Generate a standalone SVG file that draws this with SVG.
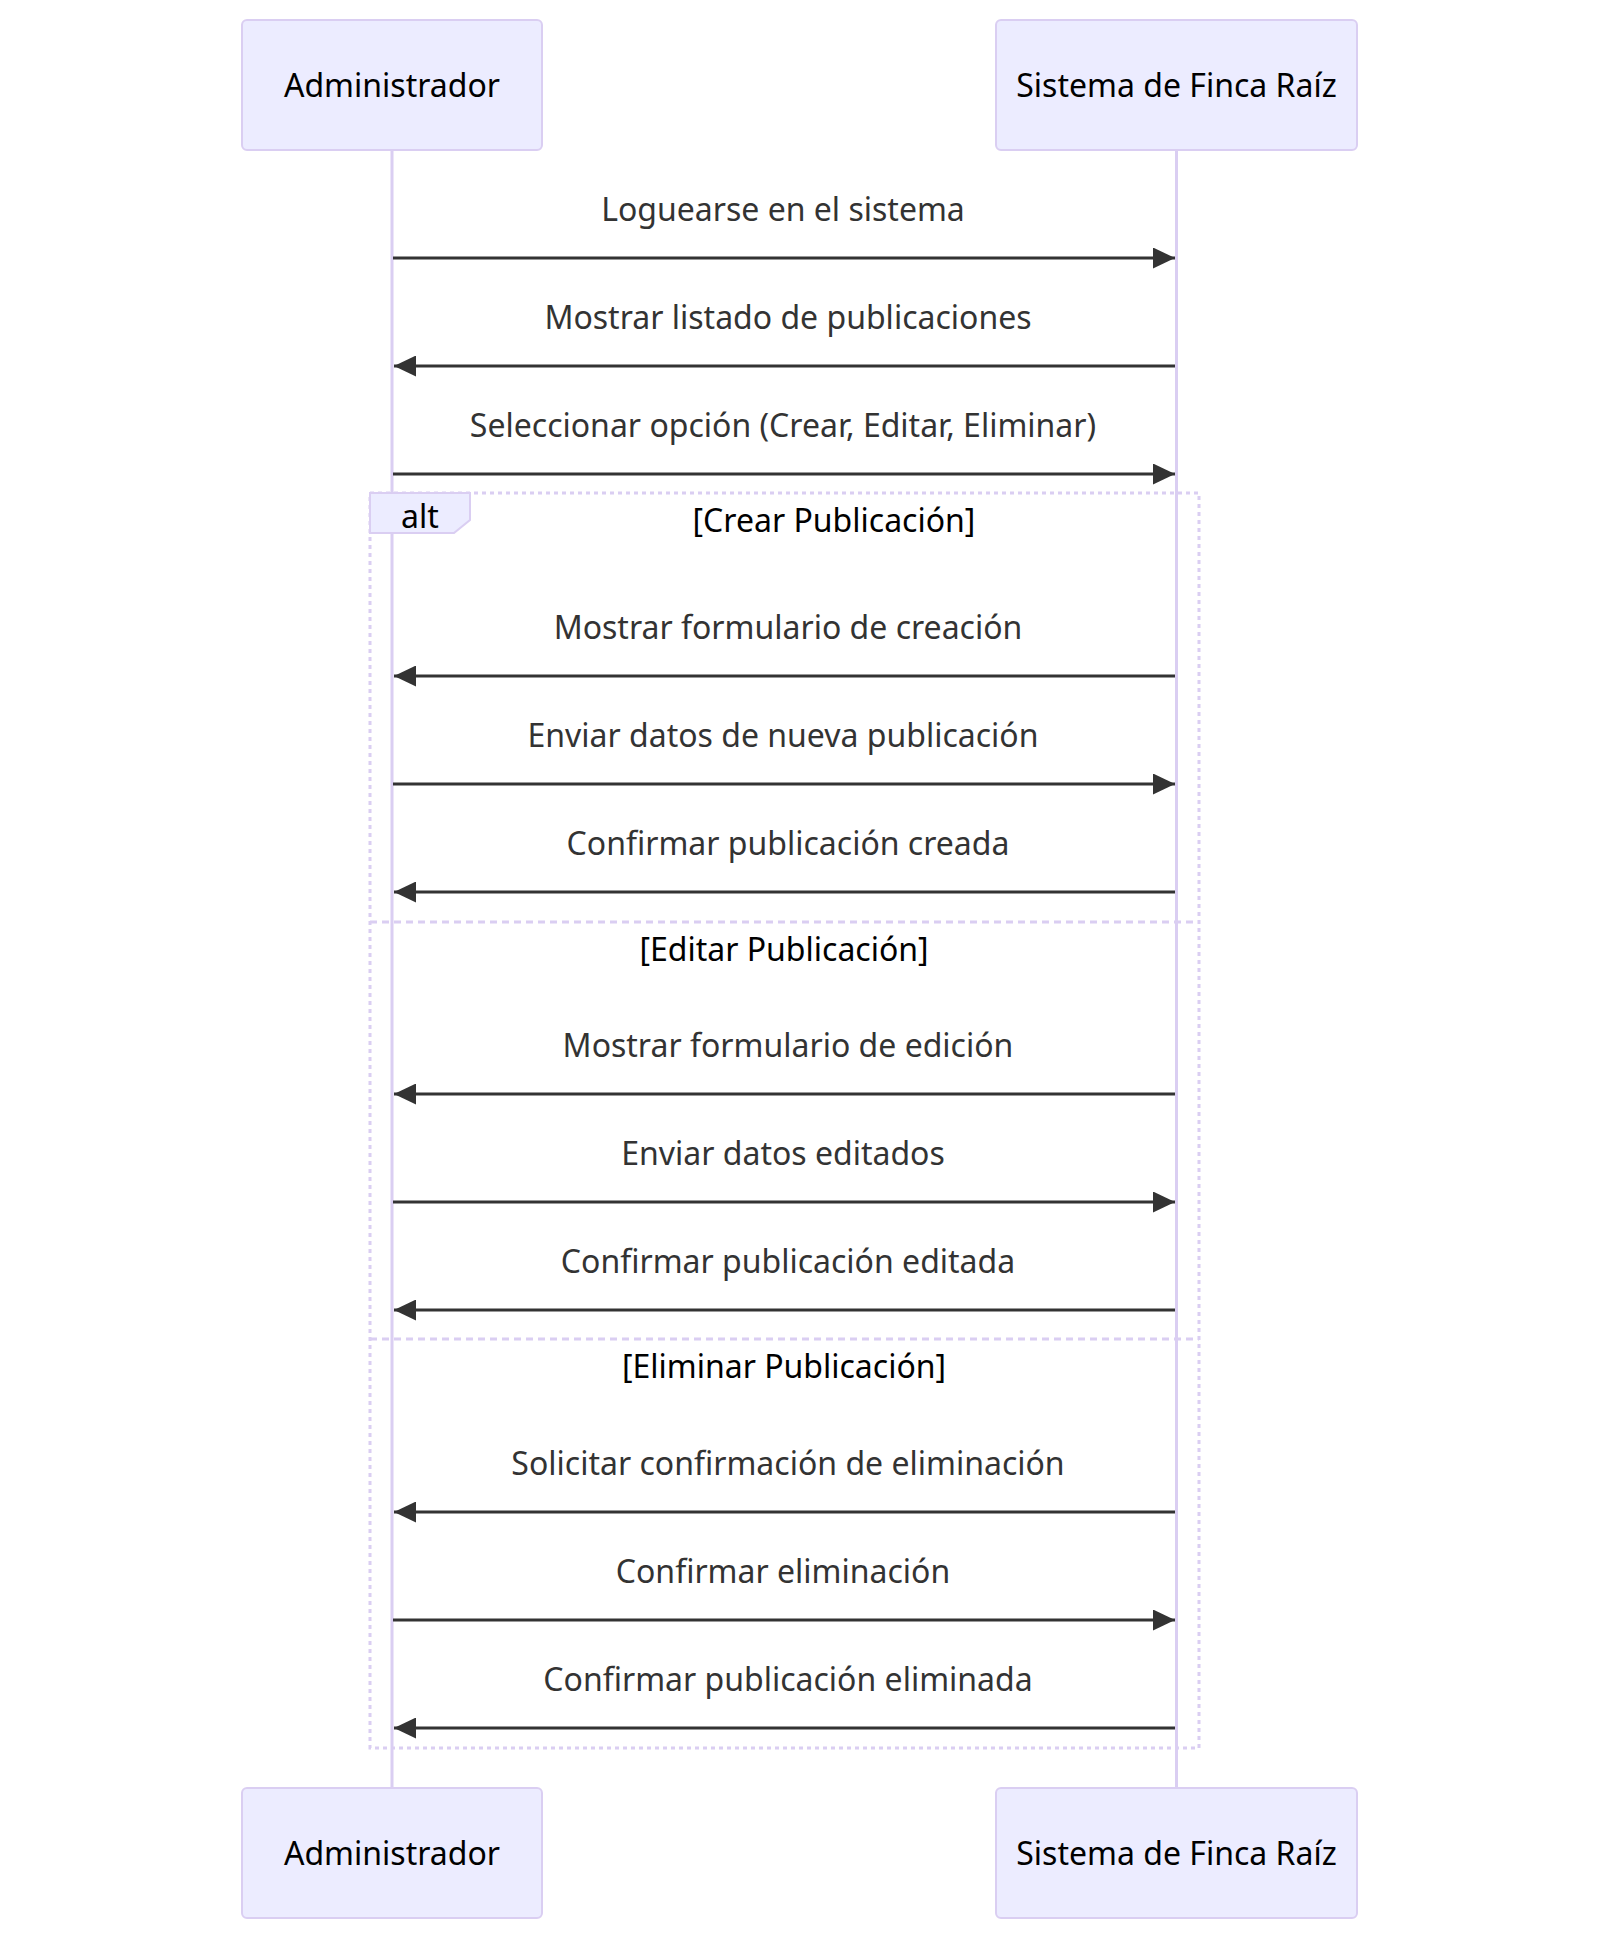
<svg xmlns="http://www.w3.org/2000/svg" width="1600" height="1940" viewBox="0 0 1600 1940">
<style>
  text { font-family: "Noto Sans", "Open Sans", "DejaVu Sans", sans-serif; }
  .actor { fill: #ECECFF; stroke: #DACEF2; stroke-width: 2; }
  .actor-text { font-size: 32px; fill: #000; text-anchor: middle; }
  .lifeline { stroke: #DACEF2; stroke-width: 3; fill: none; }
  .msg { stroke: #333; stroke-width: 3; fill: none; }
  .msg-text { font-size: 32px; fill: #333; text-anchor: middle; }
  .frame { fill: none; stroke: #DACEF2; stroke-width: 3; stroke-dasharray: 4 4; }
  .sep { fill: none; stroke: #DACEF2; stroke-width: 3; stroke-dasharray: 7 5; }
  .label-box { fill: #ECECFF; stroke: #DACEF2; stroke-width: 2; }
  .label-text { font-size: 32px; fill: #000; text-anchor: middle; }
</style>
<defs>
  <marker id="arrow" viewBox="0 0 22 21" refX="22" refY="10.5" markerWidth="22" markerHeight="21" markerUnits="userSpaceOnUse" orient="auto">
    <path d="M0,0 L22,10.5 L0,21 Z" fill="#333"/>
  </marker>
</defs>

<g id="lifelines">
  <line class="lifeline" x1="392" y1="150" x2="392" y2="1788"/>
  <line class="lifeline" x1="1176.5" y1="150" x2="1176.5" y2="1788"/>
</g>

<g id="alt-frame">
  <rect class="frame" x="370" y="493" width="829" height="1255"/>
  <line class="sep" x1="370" y1="922" x2="1199" y2="922"/>
  <line class="sep" x1="370" y1="1339" x2="1199" y2="1339"/>
  <polygon class="label-box" points="370,493 470,493 470,520 454,533 370,533"/>
  <text class="label-text" x="420" y="528">alt</text>
  <text class="label-text" x="834" y="532">[Crear Publicación]</text>
  <text class="label-text" x="784" y="961">[Editar Publicación]</text>
  <text class="label-text" x="784" y="1378">[Eliminar Publicación]</text>
</g>

<g id="actor-admin-top">
  <rect class="actor" x="242" y="20" width="300" height="130" rx="5"/>
  <text class="actor-text" x="392" y="97">Administrador</text>
</g>
<g id="actor-sistema-top">
  <rect class="actor" x="996" y="20" width="361" height="130" rx="5"/>
  <text class="actor-text" x="1176.5" y="97">Sistema de Finca Raíz</text>
</g>
<g id="actor-admin-bottom">
  <rect class="actor" x="242" y="1788" width="300" height="130" rx="5"/>
  <text class="actor-text" x="392" y="1865">Administrador</text>
</g>
<g id="actor-sistema-bottom">
  <rect class="actor" x="996" y="1788" width="361" height="130" rx="5"/>
  <text class="actor-text" x="1176.5" y="1865">Sistema de Finca Raíz</text>
</g>

<g id="connectors">
  <line class="msg" x1="393" y1="258" x2="1175" y2="258" marker-end="url(#arrow)"/>
  <text class="msg-text" x="783" y="221">Loguearse en el sistema</text>

  <line class="msg" x1="1175" y1="366" x2="394" y2="366" marker-end="url(#arrow)"/>
  <text class="msg-text" x="788" y="329">Mostrar listado de publicaciones</text>

  <line class="msg" x1="393" y1="474" x2="1175" y2="474" marker-end="url(#arrow)"/>
  <text class="msg-text" x="783" y="437">Seleccionar opción (Crear, Editar, Eliminar)</text>

  <line class="msg" x1="1175" y1="676" x2="394" y2="676" marker-end="url(#arrow)"/>
  <text class="msg-text" x="788" y="639">Mostrar formulario de creación</text>

  <line class="msg" x1="393" y1="784" x2="1175" y2="784" marker-end="url(#arrow)"/>
  <text class="msg-text" x="783" y="747">Enviar datos de nueva publicación</text>

  <line class="msg" x1="1175" y1="892" x2="394" y2="892" marker-end="url(#arrow)"/>
  <text class="msg-text" x="788" y="855">Confirmar publicación creada</text>

  <line class="msg" x1="1175" y1="1094" x2="394" y2="1094" marker-end="url(#arrow)"/>
  <text class="msg-text" x="788" y="1057">Mostrar formulario de edición</text>

  <line class="msg" x1="393" y1="1202" x2="1175" y2="1202" marker-end="url(#arrow)"/>
  <text class="msg-text" x="783" y="1165">Enviar datos editados</text>

  <line class="msg" x1="1175" y1="1310" x2="394" y2="1310" marker-end="url(#arrow)"/>
  <text class="msg-text" x="788" y="1273">Confirmar publicación editada</text>

  <line class="msg" x1="1175" y1="1512" x2="394" y2="1512" marker-end="url(#arrow)"/>
  <text class="msg-text" x="788" y="1475">Solicitar confirmación de eliminación</text>

  <line class="msg" x1="393" y1="1620" x2="1175" y2="1620" marker-end="url(#arrow)"/>
  <text class="msg-text" x="783" y="1583">Confirmar eliminación</text>

  <line class="msg" x1="1175" y1="1728" x2="394" y2="1728" marker-end="url(#arrow)"/>
  <text class="msg-text" x="788" y="1691">Confirmar publicación eliminada</text>
</g>
</svg>
